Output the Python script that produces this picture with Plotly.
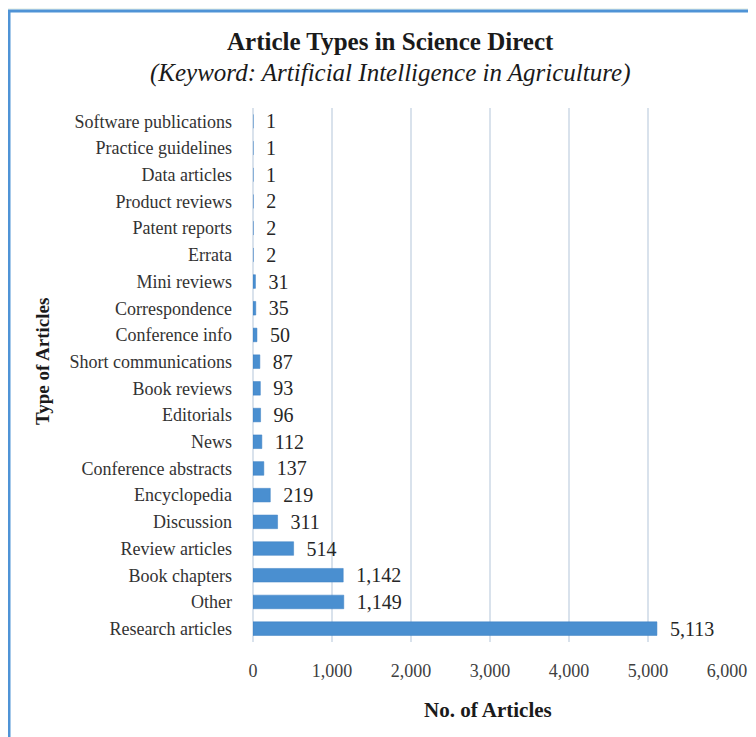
import plotly.graph_objects as go

categories = ["Research articles", "Other", "Book chapters", "Review articles", "Discussion",
              "Encyclopedia", "Conference abstracts", "News", "Editorials", "Book reviews",
              "Short communications", "Conference info", "Correspondence", "Mini reviews",
              "Errata", "Patent reports", "Product reviews", "Data articles",
              "Practice guidelines", "Software publications"]
counts = [5113, 1149, 1142, 514, 311, 219, 137, 112, 96, 93, 87, 50, 35, 31, 2, 2, 2, 1, 1, 1]
x_ticks = [0, 1000, 2000, 3000, 4000, 5000, 6000]

OFF = 8  # page body margin offset
W, H = 756 - OFF, 737 - OFF
ml, mr, mt, mb = 253 - OFF, 29, 108 - OFF, 95
pw, ph = W - ml - mr, H - mt - mb

def px_x(p):
    return (p - OFF - ml) / pw

def px_y(p):
    return 1 - (p - OFF - mt) / ph

serif = "Liberation Serif"

fig = go.Figure(go.Bar(
    x=counts, y=categories, orientation="h",
    marker=dict(color="#4a8fd0", line=dict(color="#3b7fc2", width=0.5)),
    text=["\u00a0\u00a0" + f"{v:,}" for v in counts], textposition="outside",
    constraintext="none",
    textfont=dict(family=serif, size=20, color="#262626"),
    cliponaxis=False,
))

fig.update_layout(
    width=W, height=H,
    margin=dict(l=ml, r=mr, t=mt, b=mb, autoexpand=False),
    paper_bgcolor="#eef5ef", plot_bgcolor="white",
    bargap=0.49,
    showlegend=False,
    font=dict(family=serif, color="#404040"),
    xaxis=dict(range=[0, 6000], tickvals=x_ticks, tickformat=",", showgrid=True,
               gridcolor="#d9e2ec", gridwidth=2, zeroline=True, zerolinecolor="#d9e2ec",
               zerolinewidth=2, tickfont=dict(family=serif, size=18, color="#404040"),
               ticks="", ticklabelstandoff=16, showline=False, fixedrange=True,
               automargin=False),
    yaxis=dict(tickfont=dict(family=serif, size=18, color="#333333"),
               ticks="", ticklabelstandoff=20, showgrid=False, showline=False,
               automargin=False),
    shapes=[
        dict(type="rect", xref="paper", yref="paper",
             x0=px_x(9), x1=px_x(820), y0=px_y(820), y1=px_y(11),
             fillcolor="white", line=dict(color="#4f93d6", width=3), layer="below"),
    ],
    annotations=[
        dict(text="<b>Article Types in Science Direct</b>", xref="paper", yref="paper",
             x=px_x(390), y=px_y(42), showarrow=False, xanchor="center", yanchor="middle",
             font=dict(family=serif, size=25, color="#1a1a1a")),
        dict(text="<i>(Keyword: Artificial Intelligence in Agriculture)</i>", xref="paper", yref="paper",
             x=px_x(390), y=px_y(73), showarrow=False, xanchor="center", yanchor="middle",
             font=dict(family=serif, size=25, color="#1a1a1a")),
        dict(text="<b>No. of Articles</b>", xref="paper", yref="paper",
             x=px_x(488), y=px_y(710), showarrow=False, xanchor="center", yanchor="middle",
             font=dict(family=serif, size=21, color="#1a1a1a")),
        dict(text="<b>Type of Articles</b>", xref="paper", yref="paper",
             x=px_x(42), y=px_y(362), showarrow=False, xanchor="center", yanchor="middle",
             textangle=-90, font=dict(family=serif, size=19, color="#1a1a1a")),
    ],
)

fig.write_html("out.html")
